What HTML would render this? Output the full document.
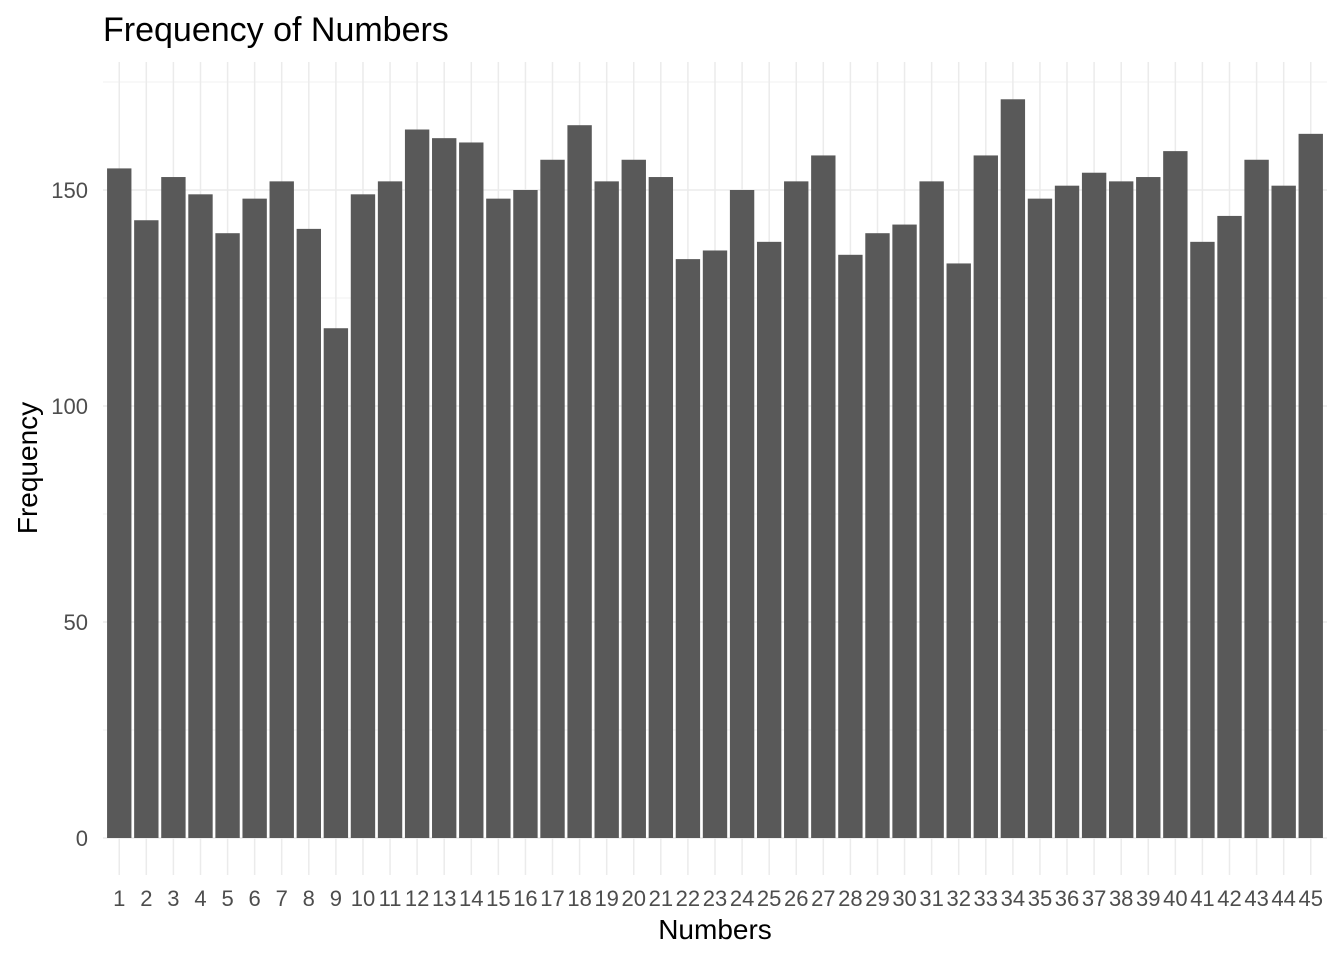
<!DOCTYPE html>
<html><head><meta charset="utf-8"><style>
body{margin:0;background:#fff;font-family:"Liberation Sans",Arial,sans-serif;}
</style></head><body>
<svg id="chart" width="1344" height="960" xmlns="http://www.w3.org/2000/svg" style="font-family:'Liberation Sans',Arial,sans-serif">
<text x="103" y="41" style="font-size:34px" fill="#000">Frequency of Numbers</text>
<text x="715" y="939" style="font-size:28px" text-anchor="middle" fill="#000">Numbers</text>
<text transform="translate(37,468) rotate(-90)" style="font-size:28px" text-anchor="middle" fill="#000">Frequency</text>
<g id="grid"></g><g id="bars"></g><g id="ticks"></g>
</svg>
<script>
const categories=[1,2,3,4,5,6,7,8,9,10,11,12,13,14,15,16,17,18,19,20,21,22,23,24,25,26,27,28,29,30,31,32,33,34,35,36,37,38,39,40,41,42,43,44,45];
const frequencies=[155,143,153,149,140,148,152,141,118,149,152,164,162,161,148,150,157,165,152,157,153,134,136,150,138,152,158,135,140,142,152,133,158,171,148,151,154,152,153,159,138,144,157,151,163];
const yMajorTicks=[0,50,100,150];
const yMinorTicks=[25,75,125,175];
const NS="http://www.w3.org/2000/svg";
const px0=103,px1=1327,py0=62,py1=875;
const n=categories.length;
const step=(px1-px0)/(n-1+1.2);
function xs(i){return px0+step*(0.6+i);}
function ys(v){return 838-v*4.32;}
const bw=step*0.9;
function mk(tag,attrs,parent){const e=document.createElementNS(NS,tag);for(const k in attrs)e.setAttribute(k,attrs[k]);document.getElementById(parent).appendChild(e);return e;}
yMinorTicks.forEach(v=>{const l=mk('line',{x1:px0,x2:px1,y1:ys(v),y2:ys(v),stroke:'#f2f2f2','stroke-width':1},'grid');

});
yMajorTicks.forEach(v=>{const l=mk('line',{x1:px0,x2:px1,y1:ys(v),y2:ys(v),stroke:'#ebebeb','stroke-width':1.5},'grid');


const t=mk('text',{x:88,y:ys(v)+8,style:'font-size:22px','text-anchor':'end',fill:'#4d4d4d'},'ticks');t.textContent=v;

});
categories.forEach((c,i)=>{const x=xs(i);
const g=mk('line',{x1:x,x2:x,y1:py0,y2:py1,stroke:'#ebebeb','stroke-width':1.5},'grid');


const b=mk('rect',{x:x-bw/2,y:ys(frequencies[i]),width:bw,height:ys(0)-ys(frequencies[i]),fill:'#595959'},'bars');


const t=mk('text',{x:x,y:906,style:'font-size:22px','text-anchor':'middle',fill:'#4d4d4d'},'ticks');t.textContent=c;

});
</script>
</body></html>
